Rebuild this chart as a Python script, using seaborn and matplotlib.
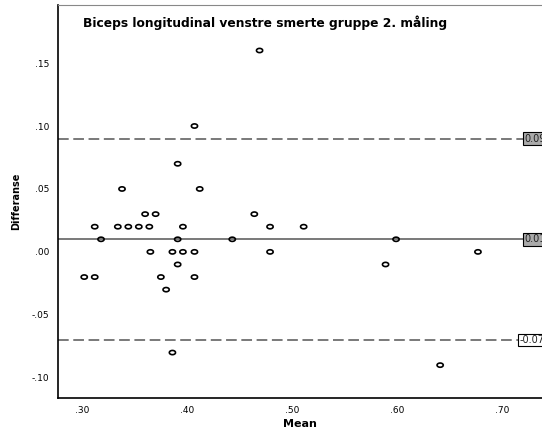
import numpy as np
import pandas as pd
import matplotlib
matplotlib.use('Agg')
import matplotlib.pyplot as plt
from matplotlib.path import Path
import seaborn as sns

# Bland-Altman data
mean_vals = [0.469, 0.407, 0.391, 0.338, 0.412, 0.360, 0.370, 0.464,
             0.312, 0.334, 0.344, 0.354, 0.364, 0.396, 0.479, 0.511,
             0.318, 0.391, 0.443, 0.599,
             0.365, 0.386, 0.396, 0.407, 0.479, 0.677,
             0.391, 0.589,
             0.302, 0.312, 0.375, 0.407,
             0.380, 0.386, 0.641]
diff_vals = [0.16, 0.10, 0.07, 0.05, 0.05, 0.03, 0.03, 0.03,
             0.02, 0.02, 0.02, 0.02, 0.02, 0.02, 0.02, 0.02,
             0.01, 0.01, 0.01, 0.01,
             0.00, 0.00, 0.00, 0.00, 0.00, 0.00,
             -0.01, -0.01,
             -0.02, -0.02, -0.02, -0.02,
             -0.03, -0.08, -0.09]

upper_loa = 0.09
mean_diff = 0.01
lower_loa = -0.07
ref_labels = ['0.09', '0.01', '-0.07']

x_ticks = [0.30, 0.40, 0.50, 0.60, 0.70]
x_ticklabels = ['.30', '.40', '.50', '.60', '.70']
y_ticks = [-0.10, -0.05, 0.00, 0.05, 0.10, 0.15]
y_ticklabels = ['-.10', '-.05', '.00', '.05', '.10', '.15']

df = pd.DataFrame({'Mean': mean_vals, 'Differanse': diff_vals})

sns.set_style('white')
plt.rcParams['font.family'] = ['DejaVu Sans']
plt.rcParams['text.color'] = 'black'
plt.rcParams['axes.labelcolor'] = 'black'
plt.rcParams['xtick.color'] = 'black'
plt.rcParams['ytick.color'] = 'black'

fig = plt.figure(figsize=(5.42, 4.32), dpi=100)
ax = fig.add_axes([0.107, 0.079, 0.893, 0.909])

# slightly flattened circle like the SPSS marker
t = np.linspace(0, 2 * np.pi, 40)
ellipse = Path(np.column_stack([np.cos(t), 0.68 * np.sin(t)]))

line_col = '#555555'
ax.axhline(upper_loa, color=line_col, lw=1.1, ls=(0, (7, 3)), zorder=1)
ax.axhline(mean_diff, color=line_col, lw=1.1, zorder=1)
ax.axhline(lower_loa, color=line_col, lw=1.1, ls=(0, (7, 3)), zorder=1)

sns.scatterplot(data=df, x='Mean', y='Differanse', ax=ax, marker=ellipse,
                s=20, facecolor='none', edgecolor='black', linewidth=1.2,
                zorder=3)

ax.set_xlim(0.277, 0.738)
ax.set_ylim(-0.116, 0.196)
ax.set_xticks(x_ticks)
ax.set_xticklabels(x_ticklabels)
ax.set_yticks(y_ticks)
ax.set_yticklabels(y_ticklabels)
ax.tick_params(axis='both', direction='out', length=4, width=1,
               labelsize=6.5, pad=2)

for side in ['left', 'bottom']:
    ax.spines[side].set_color('black')
    ax.spines[side].set_linewidth(1.2)
ax.spines['top'].set_color('#888888')
ax.spines['right'].set_visible(False)

ax.set_xlabel('Mean', fontsize=8, fontweight='bold', labelpad=3)
ax.set_ylabel('Differanse', fontsize=7, fontweight='bold', labelpad=8)

ax.text(0.052, 0.955, 'Biceps longitudinal venstre smerte gruppe 2. måling',
        transform=ax.transAxes, fontsize=8.8, fontweight='bold', va='center')

# reference line labels at the right end (cut by the figure edge as in the original)
for yv, lab, fc in zip([upper_loa, mean_diff, lower_loa], ref_labels,
                       ['#aaaaaa', '#aaaaaa', 'white']):
    ax.text(0.7215 if not lab.startswith('-') else 0.717, yv, lab,
            fontsize=7, va='center', ha='left', color='#222222',
            bbox=dict(boxstyle='square,pad=0.15', fc=fc, ec='black', lw=0.8),
            zorder=4, clip_on=False)

fig.savefig('out.png', dpi=100)
